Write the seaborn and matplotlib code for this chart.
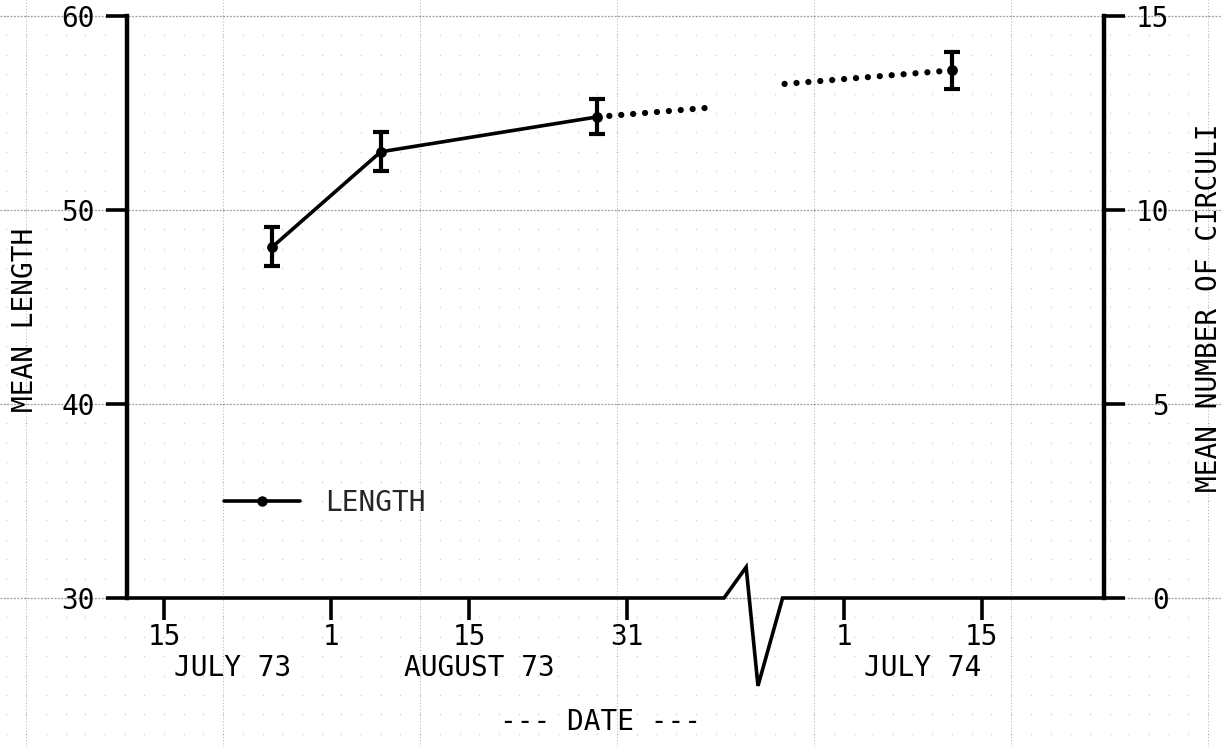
import datetime as dt

import numpy as np
import pandas as pd
import matplotlib
matplotlib.use("Agg")
import matplotlib.pyplot as plt
import matplotlib.transforms as mtransforms
from matplotlib.lines import Line2D
import seaborn as sns

# ---- data ---------------------------------------------------------------
sample_dates = ["1973-07-26", "1973-08-06", "1973-08-28", "1974-07-12"]
mean_length = [48.1, 53.0, 54.8, 57.2]
length_err = [1.0, 1.0, 0.9, 0.95]

# dotted projections across the gap between the two seasons
proj_73_dates = ["1973-08-28", "1973-09-09"]
proj_73_length = [54.8, 55.3]
proj_74_dates = ["1974-06-25", "1974-07-12"]
proj_74_length = [56.5, 57.2]

tick_dates = ["1973-07-15", "1973-08-01", "1973-08-15", "1973-08-31",
              "1974-07-01", "1974-07-15"]
tick_labels = ["15", "1", "15", "31", "1", "15"]
month_dates = ["1973-07-22", "1973-08-16", "1974-07-09"]
month_labels = ["JULY 73", "AUGUST 73", "JULY 74"]

length_ticks = [30, 40, 50, 60]
circuli_ticks = [0, 5, 10, 15]

# ---- date -> position on the broken time axis ---------------------------
SEASON_START = {1973: dt.date(1973, 7, 1), 1974: dt.date(1974, 7, 1)}
SEASON_OFFSET = {1973: 0, 1974: 83}


def to_x(s):
    d = dt.date.fromisoformat(s)
    return (d - SEASON_START[d.year]).days + SEASON_OFFSET[d.year]


sns.set_theme(style="white")
plt.rcParams["font.family"] = ["DejaVu Sans Mono", "DejaVu Sans"]
FS = 20

W_PX, H_PX = 1222, 747
fig = plt.figure(figsize=(W_PX / 100, H_PX / 100), dpi=100, facecolor="white")

# graph-paper background (drawn in display pixels)
bg = fig.add_axes([0, 0, 1, 1], zorder=0)
bg.set_xlim(0, W_PX)
bg.set_ylim(0, H_PX)
bg.axis("off")

ax = fig.add_axes([127 / W_PX, 1 - 598 / H_PX, 977 / W_PX, 582 / H_PX], zorder=2)
ax.patch.set_visible(False)
ax.set_xlim(10.24, 109.43)
ax.set_ylim(30, 60)

# paper rulings
major_days = np.arange(0, 121, 20)
minor_days = np.arange(-4, 124, 2)
major_vals = np.arange(20, 71, 10)
minor_vals = np.arange(20, 71, 1)
ink = "#6a6a6a"
for d in major_days:
    px = ax.transData.transform((d, 40))[0]
    bg.plot([px, px], [0, H_PX], color=ink, lw=0.7, ls=(0, (1.2, 2.0)), alpha=0.45)
for v in major_vals:
    py = ax.transData.transform((20, v))[1]
    bg.plot([0, W_PX], [py, py], color=ink, lw=0.9, ls=(0, (1.5, 1.2)), alpha=0.65)
gx, gy = np.meshgrid(minor_days, minor_vals)
pts = ax.transData.transform(np.column_stack([gx.ravel(), gy.ravel()]))
bg.scatter(pts[:, 0], pts[:, 1], s=1.5, color="#8a8a8a", alpha=0.35, lw=0)

# ---- length series --------------------------------------------------------
xs = [to_x(d) for d in sample_dates]
df_73 = pd.DataFrame({"date": xs[:3], "length": mean_length[:3]})
sns.lineplot(data=df_73, x="date", y="length", ax=ax, color="black",
             lw=2.6, zorder=3)
sns.lineplot(x=[to_x(d) for d in proj_73_dates], y=proj_73_length, ax=ax,
             color="black", lw=4.5, linestyle=(0, (0.01, 1.9)),
             dash_capstyle="round", zorder=3)
sns.lineplot(x=[to_x(d) for d in proj_74_dates], y=proj_74_length, ax=ax,
             color="black", lw=4.5, linestyle=(0, (0.01, 1.9)),
             dash_capstyle="round", zorder=3)
ax.errorbar(xs, mean_length, yerr=length_err, fmt="none", ecolor="black",
            elinewidth=3, capsize=6, capthick=3, zorder=4)
sns.scatterplot(x=xs, y=mean_length, ax=ax, color="black", s=60,
                linewidth=0, zorder=5)

# ---- axes ---------------------------------------------------------------
for side in ["top", "bottom", "right"]:
    ax.spines[side].set_visible(False)
ax.spines["left"].set_linewidth(3.2)
ax.spines["left"].set_color("black")

ax.set_yticks(length_ticks)
ax.set_yticklabels([str(t) for t in length_ticks])
ax.tick_params(axis="y", left=True, direction="out", length=15, width=2.6,
               pad=8, labelsize=FS, colors="black")
ax.set_xticks([to_x(d) for d in tick_dates])
ax.set_xticklabels(tick_labels)
ax.tick_params(axis="x", bottom=True, direction="out", length=16, width=2.6,
               pad=2, labelsize=FS, colors="black")
ax.set_xlabel("")
ax.set_ylabel("")

ax2 = ax.twinx()
ax2.set_zorder(2)
ax2.patch.set_visible(False)
ax2.set_ylim(0, 15)
for side in ["top", "bottom", "left"]:
    ax2.spines[side].set_visible(False)
ax2.spines["right"].set_linewidth(3.2)
ax2.spines["right"].set_color("black")
ax2.set_yticks(circuli_ticks)
ax2.set_yticklabels([str(t) for t in circuli_ticks])
ax2.tick_params(axis="y", right=True, direction="out", length=15, width=2.6,
                pad=32, labelsize=FS, colors="black")
for lbl in ax2.get_yticklabels():
    lbl.set_ha("right")

# broken time axis between the 1973 and 1974 seasons
brk = (to_x(proj_73_dates[-1]) + to_x(proj_74_dates[0])) / 2
trans = mtransforms.blended_transform_factory(ax.transData, ax.transAxes)
x0, x1 = ax.get_xlim()
axis_x = [x0, brk - 2.65, brk - 0.4, brk + 0.8, brk + 3.3, x1]
axis_y = [0, 0, 0.053, -0.151, 0, 0]
ax.add_line(Line2D(axis_x, axis_y, transform=trans, color="black", lw=2.6,
                   solid_joinstyle="miter", solid_capstyle="butt",
                   clip_on=False, zorder=4))

for d, lab in zip(month_dates, month_labels):
    ax.text(to_x(d), -0.097, lab, transform=trans, ha="center", va="top",
            fontsize=FS, color="black")

fig.text(600 / W_PX, 1 - 708 / H_PX, "--- DATE ---", ha="center", va="top",
         fontsize=FS, color="black")
fig.text(25 / W_PX, 1 - 320 / H_PX, "MEAN LENGTH", rotation=90,
         ha="center", va="center", fontsize=FS, color="black")
fig.text(1209 / W_PX, 1 - 308 / H_PX, "MEAN NUMBER OF CIRCULI", rotation=90,
         ha="center", va="center", fontsize=FS, color="black")

# legend
handle = Line2D([], [], color="black", lw=2.6, marker="o", markersize=7.5,
                markeredgewidth=0)
ax.legend([handle], ["LENGTH"], loc="center left",
          bbox_to_anchor=(0.0993, 0.163), frameon=False, handlelength=2.75,
          handletextpad=0.9, borderpad=0, borderaxespad=0, fontsize=FS)

fig.savefig("out.png", dpi=100, facecolor="white")
